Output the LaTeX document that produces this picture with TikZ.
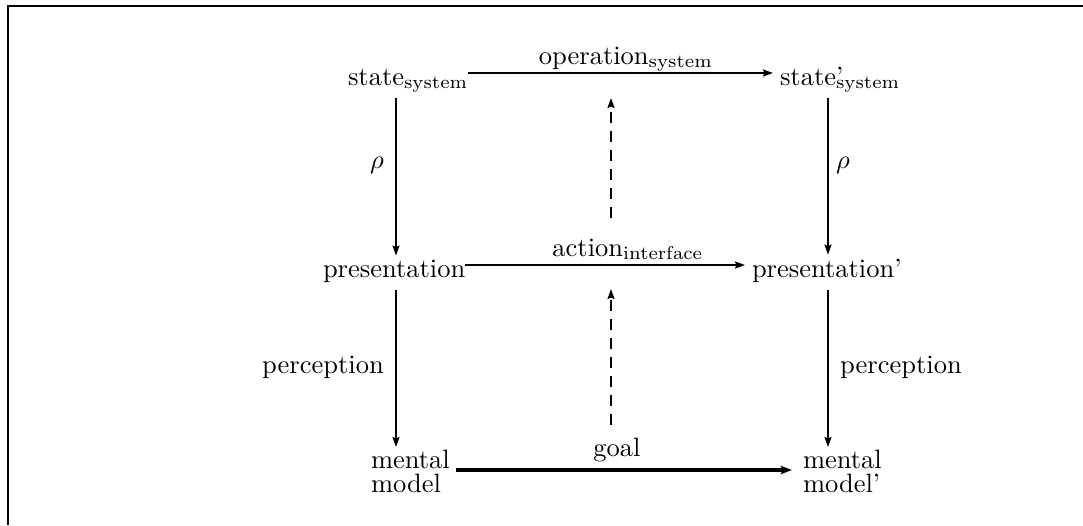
\documentclass[tikz,border=0pt]{standalone}
\usetikzlibrary{arrows.meta}
\begin{document}
\begin{tikzpicture}[x=1pt,y=-1pt,
  every node/.style={inner sep=0pt,outer sep=0pt,font=\fontsize{10}{9.06}\selectfont,scale=2.65},
  arr/.style={line width=1.8pt,-{Stealth[length=10pt,width=7pt,inset=1.5pt]}},
  thickarr/.style={line width=3.5pt,-{Stealth[length=11pt,width=8pt,inset=1.5pt]}},
  dasharr/.style={arr,dash pattern=on 11pt off 8pt},
  frame/.style={line width=2pt}]
\useasboundingbox (0,0) rectangle (1083,525);

% open frame: left and top edges
\draw[frame] (8,525) -- (8,6) -- (1083,6);

% columns for the vertical connectors
\coordinate (cL) at (396,0);
\coordinate (cR) at (828,0);

% main nodes
\node[anchor=base west] (s1) at (348,85) {state$_{\mathrm{system}}$};
\node[anchor=base west] (s2) at (780,85) {state\rlap{’}$_{\mathrm{system}}$};
\node[anchor=base west] (p1) at (323,277) {presentation};
\node[anchor=base west] (p2) at (752,277) {presentation’};
\node[anchor=north west,align=left] (m1) at (371,450) {mental\\model};
\node[anchor=north west,align=left] (m2) at (803,450) {mental\\model’};

% edge labels
\node[anchor=base] (lo) at (626,64) {operation$_{\mathrm{system}}$};
\node[anchor=base] (la) at (628,256) {action$_{\mathrm{interface}}$};
\node[anchor=base] (lg) at (617,456) {goal};
\node (rL) at (377,165) {$\rho$};
\node (rR) at (843,165) {$\rho$};
\node (qL) at (323,367) {perception};
\node (qR) at (901,367) {perception};

% horizontal connectors
\draw[arr,shorten >=7pt] ([yshift=12pt]s1.base east) -- ([yshift=12pt]s2.base west);
\draw[arr,shorten >=7pt] ([yshift=12pt]p1.base east) -- ([yshift=12pt]p2.base west);
\draw[thickarr,shorten <=6pt,shorten >=11pt] ([yshift=-20pt]m1.north east) -- ([yshift=-20pt]m2.north west);

% vertical connectors
\draw[arr,shorten <=5pt,shorten >=4pt] (s1.south -| cL) -- (p1.north -| cL);
\draw[arr,shorten <=8pt,shorten >=3pt] (p1.south -| cL) -- (m1.north -| cL);
\draw[arr,shorten <=5pt,shorten >=4pt] (s2.south -| cR) -- (p2.north -| cR);
\draw[arr,shorten <=8pt,shorten >=3pt] (p2.south -| cR) -- (m2.north -| cR);

% dashed upward connectors
\coordinate (d1a) at (611,425);
\coordinate (d1b) at (611,289);
\coordinate (d2a) at (611,218);
\coordinate (d2b) at (611,98);
\draw[dasharr] (d1a) -- (d1b);
\draw[dasharr] (d2a) -- (d2b);
\end{tikzpicture}
\end{document}
